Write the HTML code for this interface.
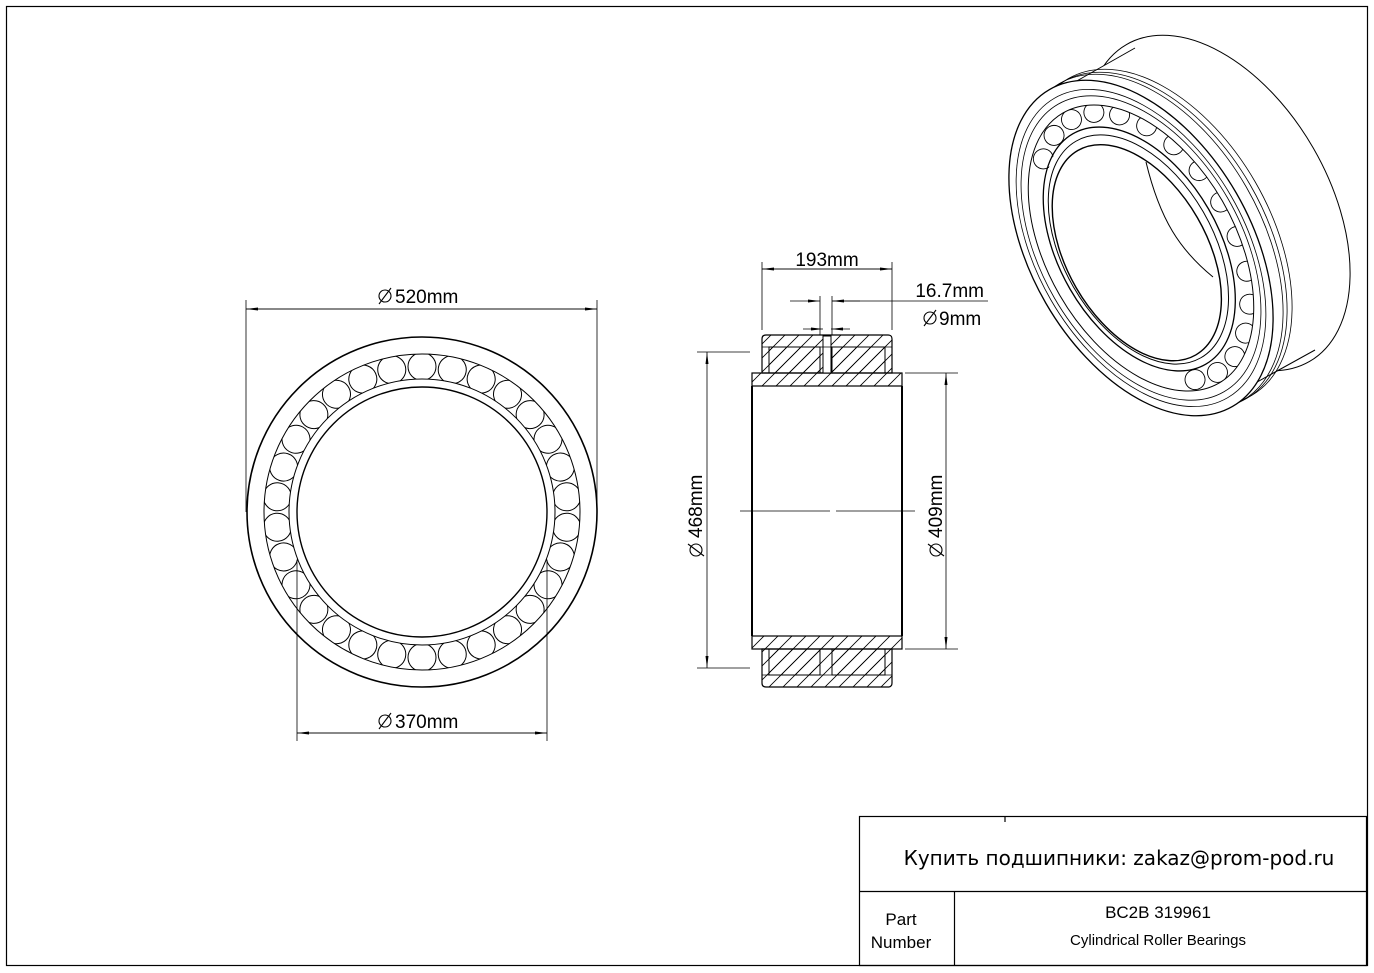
<!DOCTYPE html>
<html><head><meta charset="utf-8"><style>
html,body{margin:0;padding:0;background:#fff}
svg{display:block}
text{font-family:"Liberation Sans",Arial,sans-serif;fill:#000}
</style></head><body>
<svg width="1374" height="973" viewBox="0 0 1374 973" xmlns="http://www.w3.org/2000/svg">
<defs>
<pattern id="h" patternUnits="userSpaceOnUse" width="14" height="14"><path d="M-1,15 L15,-1 M-1,1 L1,-1 M13,15 L15,13" stroke="#000" stroke-width="0.8"/></pattern>
<marker id="a" markerWidth="12" markerHeight="6" refX="12" refY="3" orient="auto" markerUnits="userSpaceOnUse"><path d="M0,1.5 L12,3 L0,4.5z" fill="#000"/></marker>
<clipPath id="band"><path fill-rule="evenodd" clip-rule="evenodd" d="M422,354 a158,158 0 1,0 0.01,0z M422,379 a133,133 0 1,1 -0.01,0z"/></clipPath>
<clipPath id="band3"><path clip-rule="evenodd" fill-rule="evenodd" d="M-94,0 a94,156 0 1,0 188,0 a94,156 0 1,0 -188,0z M-80,0 a80,133 0 1,1 160,0 a80,133 0 1,1 -160,0z"/></clipPath>
<circle id="r" cx="567.5" cy="512" r="14" fill="none" stroke="#000" stroke-width="1"/>
</defs>
<rect x="6.5" y="6.5" width="1361" height="959" fill="none" stroke="#000" stroke-width="1.2"/>

<!-- front view -->
<g fill="none" stroke="#000">
<circle cx="422" cy="512" r="175" stroke-width="1.6"/>
<circle cx="422" cy="512" r="158" stroke-width="1"/>
<circle cx="422" cy="512" r="133" stroke-width="1"/>
<circle cx="422" cy="512" r="125" stroke-width="1.4"/>
<g clip-path="url(#band)">
<use href="#r" transform="rotate(6 422 512)"/><use href="#r" transform="rotate(18 422 512)"/><use href="#r" transform="rotate(30 422 512)"/><use href="#r" transform="rotate(42 422 512)"/><use href="#r" transform="rotate(54 422 512)"/><use href="#r" transform="rotate(66 422 512)"/><use href="#r" transform="rotate(78 422 512)"/><use href="#r" transform="rotate(90 422 512)"/><use href="#r" transform="rotate(102 422 512)"/><use href="#r" transform="rotate(114 422 512)"/><use href="#r" transform="rotate(126 422 512)"/><use href="#r" transform="rotate(138 422 512)"/><use href="#r" transform="rotate(150 422 512)"/><use href="#r" transform="rotate(162 422 512)"/><use href="#r" transform="rotate(174 422 512)"/><use href="#r" transform="rotate(186 422 512)"/><use href="#r" transform="rotate(198 422 512)"/><use href="#r" transform="rotate(210 422 512)"/><use href="#r" transform="rotate(222 422 512)"/><use href="#r" transform="rotate(234 422 512)"/><use href="#r" transform="rotate(246 422 512)"/><use href="#r" transform="rotate(258 422 512)"/><use href="#r" transform="rotate(270 422 512)"/><use href="#r" transform="rotate(282 422 512)"/><use href="#r" transform="rotate(294 422 512)"/><use href="#r" transform="rotate(306 422 512)"/><use href="#r" transform="rotate(318 422 512)"/><use href="#r" transform="rotate(330 422 512)"/><use href="#r" transform="rotate(342 422 512)"/><use href="#r" transform="rotate(354 422 512)"/>
</g>
<g stroke-width="0.8">
<line x1="246" y1="300" x2="246" y2="512"/><line x1="597" y1="300" x2="597" y2="512"/>
<line x1="246" y1="309" x2="597" y2="309" marker-end="url(#a)"/>
<line x1="597" y1="309" x2="246" y2="309" marker-end="url(#a)"/>
<line x1="297" y1="560" x2="297" y2="741"/><line x1="547" y1="560" x2="547" y2="741"/>
<line x1="297" y1="733" x2="547" y2="733" marker-end="url(#a)"/>
<line x1="547" y1="733" x2="297" y2="733" marker-end="url(#a)"/>
</g>
</g>
<g fill="none" stroke="#000" stroke-width="1.1">
<circle cx="385" cy="296" r="6"/><line x1="379" y1="304" x2="391" y2="288"/>
<circle cx="385" cy="721" r="6"/><line x1="379" y1="729" x2="391" y2="713"/>
<circle cx="930" cy="318" r="6"/><line x1="924" y1="326" x2="936" y2="310"/>
<circle cx="696" cy="550" r="6"/><line x1="688" y1="544" x2="704" y2="556"/>
<circle cx="936" cy="550" r="6"/><line x1="928" y1="544" x2="944" y2="556"/>
</g>
<text x="395" y="303" font-size="19">520mm</text>
<text x="395" y="728" font-size="19">370mm</text>

<!-- side view -->
<g stroke="#000">
<rect x="752" y="373" width="150" height="13" fill="url(#h)" stroke-width="1.2"/>
<rect x="752" y="636" width="150" height="13" fill="url(#h)" stroke-width="1.2"/>
<path d="M762,373 V339 q0,-4 4,-4 H888 q4,0 4,4 V373 Z" fill="url(#h)" stroke-width="1.2"/>
<path d="M762,649 V683 q0,4 4,4 H888 q4,0 4,-4 V649 Z" fill="url(#h)" stroke-width="1.2"/>
<g fill="#fff" stroke-width="1">
<rect x="769" y="347" width="51" height="26" fill="url(#h)"/>
<rect x="832" y="347" width="53" height="26" fill="url(#h)"/>
<rect x="769" y="649" width="51" height="26" fill="url(#h)"/>
<rect x="832" y="649" width="53" height="26" fill="url(#h)"/>
<rect x="823" y="336" width="8" height="37"/>
</g>
<line x1="762" y1="347" x2="892" y2="347" stroke-width="0.8"/>
<line x1="762" y1="675" x2="892" y2="675" stroke-width="0.8"/>
<line x1="752" y1="386" x2="752" y2="636" stroke-width="2"/>
<line x1="902" y1="386" x2="902" y2="636" stroke-width="2"/>
<line x1="740" y1="511" x2="830" y2="511" stroke-width="0.8"/>
<line x1="836" y1="511" x2="915" y2="511" stroke-width="0.8"/>
<g stroke-width="0.8" fill="none">
<line x1="762" y1="262" x2="762" y2="330"/><line x1="892" y1="262" x2="892" y2="330"/>
<line x1="762" y1="269" x2="892" y2="269" marker-end="url(#a)"/>
<line x1="892" y1="269" x2="762" y2="269" marker-end="url(#a)"/>
<line x1="820" y1="296" x2="820" y2="335"/><line x1="832" y1="296" x2="832" y2="335"/>
<line x1="790" y1="301" x2="820" y2="301" marker-end="url(#a)"/>
<line x1="860" y1="301" x2="832" y2="301" marker-end="url(#a)"/>
<line x1="832" y1="301" x2="988" y2="301"/>
<line x1="803" y1="329" x2="823" y2="329" marker-end="url(#a)"/>
<line x1="850" y1="329" x2="831" y2="329" marker-end="url(#a)"/>
<line x1="697" y1="352" x2="750" y2="352"/><line x1="697" y1="668" x2="750" y2="668"/>
<line x1="707" y1="511" x2="707" y2="352" marker-end="url(#a)"/>
<line x1="707" y1="511" x2="707" y2="668" marker-end="url(#a)"/>
<line x1="905" y1="373" x2="958" y2="373"/><line x1="905" y1="649" x2="958" y2="649"/>
<line x1="946" y1="511" x2="946" y2="373" marker-end="url(#a)"/>
<line x1="946" y1="511" x2="946" y2="649" marker-end="url(#a)"/>
</g>
</g>
<text x="827" y="266" font-size="19" text-anchor="middle">193mm</text>
<text x="984" y="297" font-size="19" text-anchor="end">16.7mm</text>
<text x="939" y="325" font-size="19">9mm</text>
<text transform="translate(702,538) rotate(-90)" font-size="19">468mm</text>
<text transform="translate(942,538) rotate(-90)" font-size="19">409mm</text>

<!-- 3D view -->
<g stroke="#000" stroke-width="1" fill="#fff">
<ellipse cx="1218" cy="203" rx="110" ry="183" transform="rotate(-30 1218 203)"/>
<polygon points="1052,95 1135,48 1315,350 1230,397" stroke="none"/>
<line x1="1052" y1="95" x2="1135" y2="48"/>
<line x1="1230" y1="397" x2="1315" y2="350"/>
<ellipse cx="1151" cy="242" rx="110" ry="183" transform="rotate(-30 1151 242)" fill="none" stroke-width="0.8"/>
<ellipse cx="1155" cy="240" rx="110" ry="183" transform="rotate(-30 1155 240)" fill="none" stroke-width="0.8"/>
<ellipse cx="1160" cy="237" rx="110" ry="183" transform="rotate(-30 1160 237)" fill="none" stroke-width="0.8"/>
<ellipse cx="1141" cy="248" rx="110" ry="183" transform="rotate(-30 1141 248)" stroke-width="1.3"/>
<g transform="translate(1141,248) rotate(-30)" fill="none">
<ellipse cx="0" cy="0" rx="104" ry="173" stroke-width="0.8"/>
<ellipse cx="0" cy="0" rx="100" ry="166" stroke-width="0.8"/>
<ellipse cx="0" cy="0" rx="94" ry="156"/>
<ellipse cx="-2" cy="0" rx="80" ry="133" stroke-width="1.3"/>
<ellipse cx="-3" cy="0" rx="75" ry="125"/>
<ellipse cx="-6" cy="2" rx="70" ry="118" stroke-width="1.4"/>
<g clip-path="url(#band3)" stroke-width="0.9">
<circle cx="92" cy="0" r="10"/><circle cx="89" cy="38" r="10"/><circle cx="80" cy="73" r="10"/><circle cx="66" cy="103" r="10"/><circle cx="48" cy="126" r="10"/><circle cx="27" cy="141" r="10"/><circle cx="4" cy="146" r="10"/>
<circle cx="89" cy="-38" r="10"/><circle cx="80" cy="-73" r="10"/><circle cx="66" cy="-103" r="10"/><circle cx="48" cy="-126" r="10"/><circle cx="27" cy="-141" r="10"/><circle cx="4" cy="-146" r="10"/>
<circle cx="-19" cy="141" r="10"/><circle cx="-19" cy="-141" r="10"/><circle cx="-40" cy="-126" r="10"/>
</g>
</g>
<path d="M1146,162 C1160,220 1180,250 1213,277" fill="none"/>
</g>

<!-- title block -->
<g stroke="#000" fill="none" stroke-width="1.2">
<rect x="859.5" y="816.5" width="507" height="149"/>
<line x1="859" y1="891.5" x2="1367" y2="891.5"/>
<line x1="954.5" y1="891" x2="954.5" y2="965"/>
<line x1="1005" y1="816" x2="1005" y2="822"/>
</g>
<text x="1119" y="865" font-size="20" text-anchor="middle" style="font-family:'DejaVu Sans','Liberation Sans',sans-serif">Купить подшипники: zakaz@prom-pod.ru</text>
<text x="901" y="925" font-size="17" text-anchor="middle">Part</text>
<text x="901" y="948" font-size="17" text-anchor="middle">Number</text>
<text x="1158" y="918" font-size="17" text-anchor="middle">BC2B 319961</text>
<text x="1158" y="945" font-size="15" text-anchor="middle">Cylindrical Roller Bearings</text>
</svg>
</body></html>
